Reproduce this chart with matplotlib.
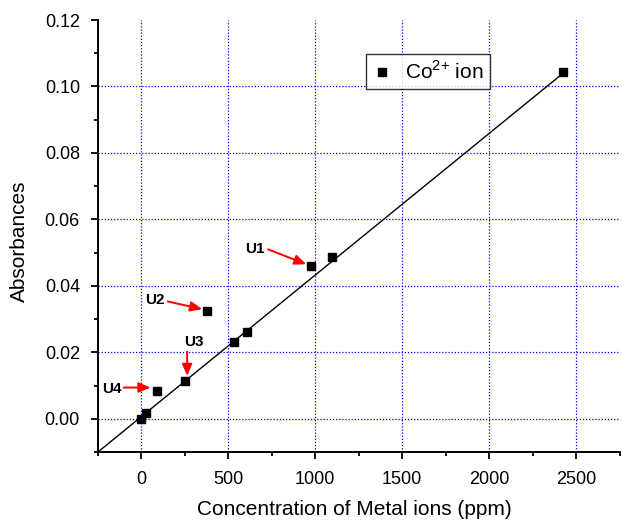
import matplotlib
matplotlib.use("Agg")
import matplotlib.pyplot as plt
import numpy as np

plt.rcParams['font.family'] = ['Liberation Sans', 'DejaVu Sans']
plt.rcParams['mathtext.fontset'] = 'custom'
plt.rcParams['mathtext.rm'] = 'Liberation Sans'

# Data (concentration ppm, absorbance)
conc = [0, 25, 90, 249, 375, 533, 609, 975, 1096, 2425]
absorb = [0.0000, 0.0016, 0.0084, 0.0115, 0.0325, 0.0232, 0.0261, 0.0459, 0.0488, 0.1044]

# Linear calibration fit
fit_slope = 4.26e-5
fit_intercept = 0.00066
fit_x = [-250, 2425]

# Annotations: label, text position, arrow start, arrow tip
labels = ['U1', 'U2', 'U3', 'U4']
label_pos = [(655, 0.0511), (80, 0.0356), (299, 0.0230), (-172, 0.0091)]
arrow_start = [(728, 0.0510), (151, 0.0353), (263, 0.0202), (-102, 0.0094)]
arrow_tip = [(948, 0.0465), (349, 0.0330), (263, 0.0129), (52, 0.0094)]

fig = plt.figure(figsize=(6.22, 5.20), dpi=100)
ax = fig.add_axes([98/622, 1-452/520, (619.5-98)/622, (452-20)/520])

ax.set_xlim(-250, 2750)
ax.set_ylim(-0.01, 0.12)
ax.set_xticks(np.arange(0, 2501, 500))
ax.set_xticks(np.arange(-250, 2751, 500), minor=True)
ax.set_yticks(np.arange(0, 0.121, 0.02))
ax.set_yticks(np.arange(-0.01, 0.12, 0.02), minor=True)
ax.set_yticklabels([f"{v:.2f}" for v in np.arange(0, 0.121, 0.02)])

# grid at major ticks (excluding top)
for xv in np.arange(0, 2501, 500):
    ax.axvline(xv, color='#0000ff', lw=0.9, ls=(0, (1, 1.5)), zorder=0)
for yv in np.arange(0, 0.101, 0.02):
    ax.axhline(yv, color='#0000ff', lw=0.9, ls=(0, (1, 1.5)), zorder=0)

fx = np.array(fit_x)
ax.plot(fx, fit_slope * fx + fit_intercept, color='black', lw=1.0, zorder=2)
ax.plot(conc, absorb, 's', color='black', ms=6.3, zorder=3,
        label=r'Co$^{2{+}}$ ion')

for lab, lp, st, tp in zip(labels, label_pos, arrow_start, arrow_tip):
    ax.text(lp[0], lp[1], lab, ha='center', va='center', fontsize=11, fontweight='bold')
    ax.annotate('', xy=tp, xytext=st,
                arrowprops=dict(arrowstyle='-|>,head_length=0.7,head_width=0.3',
                                color='red', lw=1.4, shrinkA=0, shrinkB=0))

for s in ['top', 'right']:
    ax.spines[s].set_visible(False)
for s in ['left', 'bottom']:
    ax.spines[s].set_linewidth(1.4)

ax.tick_params(axis='both', which='major', direction='out', length=5, width=1.3,
               labelsize=13)
ax.tick_params(axis='y', which='major', pad=8)
ax.tick_params(axis='x', which='major', pad=9)
ax.tick_params(axis='both', which='minor', direction='out', length=2.8, width=1.3)

ax.set_xlabel('Concentration of Metal ions (ppm)', fontsize=15)
ax.set_ylabel('Absorbances', fontsize=15)
ax.xaxis.set_label_coords(0.492, -0.132)
ax.xaxis.label.set_va('center')
ax.yaxis.set_label_coords(-0.1505, 0.487)
ax.yaxis.label.set_va('center')

leg = ax.legend(loc='upper left', bbox_to_anchor=(0.513, 0.921), borderaxespad=0,
                fontsize=15, frameon=True, fancybox=False, handlelength=1.0,
                handletextpad=0.6, borderpad=0.3)
leg.get_frame().set_edgecolor('black')
leg.get_frame().set_linewidth(1.0)

fig.savefig('out.png', dpi=100)
